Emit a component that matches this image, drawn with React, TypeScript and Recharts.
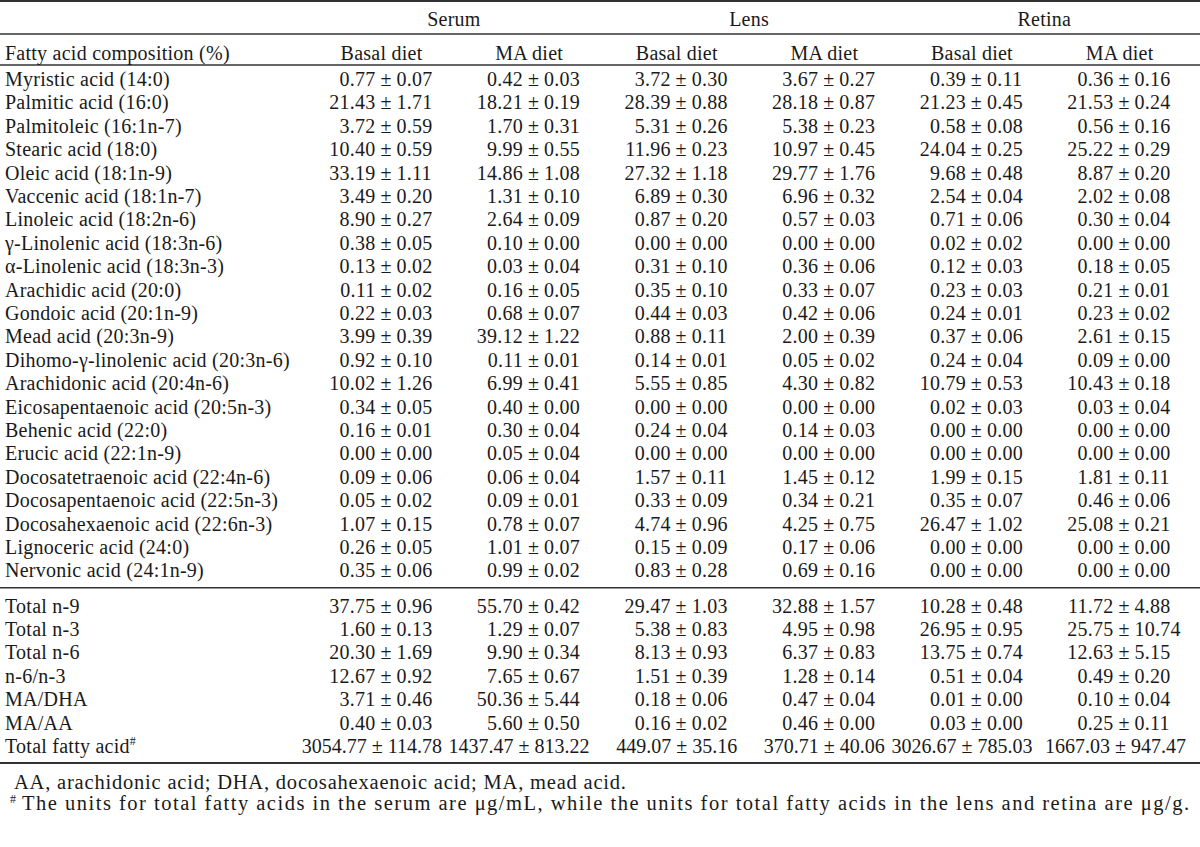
import React from "react";
import { ScatterChart, Scatter, XAxis, YAxis, ReferenceLine } from "recharts";

if (typeof document !== "undefined") document.body.style.margin = "0";

// ─── Data ─────────────────────────────────────────────────────────────────────
const groups = ["Serum", "Lens", "Retina"];
const diets = ["Basal diet", "MA diet"];
const stubHeader = "Fatty acid composition (%)";

const fattyAcids = [
  "Myristic acid (14:0)", "Palmitic acid (16:0)", "Palmitoleic (16:1n-7)", "Stearic acid (18:0)",
  "Oleic acid (18:1n-9)", "Vaccenic acid (18:1n-7)", "Linoleic acid (18:2n-6)",
  "γ-Linolenic acid (18:3n-6)", "α-Linolenic acid (18:3n-3)", "Arachidic acid (20:0)",
  "Gondoic acid (20:1n-9)", "Mead acid (20:3n-9)", "Dihomo-γ-linolenic acid (20:3n-6)",
  "Arachidonic acid (20:4n-6)", "Eicosapentaenoic acid (20:5n-3)", "Behenic acid (22:0)",
  "Erucic acid (22:1n-9)", "Docosatetraenoic acid (22:4n-6)", "Docosapentaenoic acid (22:5n-3)",
  "Docosahexaenoic acid (22:6n-3)", "Lignoceric acid (24:0)", "Nervonic acid (24:1n-9)",
];
const totals = ["Total n-9", "Total n-3", "Total n-6", "n-6/n-3", "MA/DHA", "MA/AA", "Total fatty acid"];

// 22 fatty acids followed by the 7 totals
const serumBasal = [
  "0.77 ± 0.07", "21.43 ± 1.71", "3.72 ± 0.59", "10.40 ± 0.59", "33.19 ± 1.11", "3.49 ± 0.20",
  "8.90 ± 0.27", "0.38 ± 0.05", "0.13 ± 0.02", "0.11 ± 0.02", "0.22 ± 0.03", "3.99 ± 0.39",
  "0.92 ± 0.10", "10.02 ± 1.26", "0.34 ± 0.05", "0.16 ± 0.01", "0.00 ± 0.00", "0.09 ± 0.06",
  "0.05 ± 0.02", "1.07 ± 0.15", "0.26 ± 0.05", "0.35 ± 0.06",
  "37.75 ± 0.96", "1.60 ± 0.13", "20.30 ± 1.69", "12.67 ± 0.92", "3.71 ± 0.46", "0.40 ± 0.03", "3054.77 ± 114.78",
];
const serumMA = [
  "0.42 ± 0.03", "18.21 ± 0.19", "1.70 ± 0.31", "9.99 ± 0.55", "14.86 ± 1.08", "1.31 ± 0.10",
  "2.64 ± 0.09", "0.10 ± 0.00", "0.03 ± 0.04", "0.16 ± 0.05", "0.68 ± 0.07", "39.12 ± 1.22",
  "0.11 ± 0.01", "6.99 ± 0.41", "0.40 ± 0.00", "0.30 ± 0.04", "0.05 ± 0.04", "0.06 ± 0.04",
  "0.09 ± 0.01", "0.78 ± 0.07", "1.01 ± 0.07", "0.99 ± 0.02",
  "55.70 ± 0.42", "1.29 ± 0.07", "9.90 ± 0.34", "7.65 ± 0.67", "50.36 ± 5.44", "5.60 ± 0.50", "1437.47 ± 813.22",
];
const lensBasal = [
  "3.72 ± 0.30", "28.39 ± 0.88", "5.31 ± 0.26", "11.96 ± 0.23", "27.32 ± 1.18", "6.89 ± 0.30",
  "0.87 ± 0.20", "0.00 ± 0.00", "0.31 ± 0.10", "0.35 ± 0.10", "0.44 ± 0.03", "0.88 ± 0.11",
  "0.14 ± 0.01", "5.55 ± 0.85", "0.00 ± 0.00", "0.24 ± 0.04", "0.00 ± 0.00", "1.57 ± 0.11",
  "0.33 ± 0.09", "4.74 ± 0.96", "0.15 ± 0.09", "0.83 ± 0.28",
  "29.47 ± 1.03", "5.38 ± 0.83", "8.13 ± 0.93", "1.51 ± 0.39", "0.18 ± 0.06", "0.16 ± 0.02", "449.07 ± 35.16",
];
const lensMA = [
  "3.67 ± 0.27", "28.18 ± 0.87", "5.38 ± 0.23", "10.97 ± 0.45", "29.77 ± 1.76", "6.96 ± 0.32",
  "0.57 ± 0.03", "0.00 ± 0.00", "0.36 ± 0.06", "0.33 ± 0.07", "0.42 ± 0.06", "2.00 ± 0.39",
  "0.05 ± 0.02", "4.30 ± 0.82", "0.00 ± 0.00", "0.14 ± 0.03", "0.00 ± 0.00", "1.45 ± 0.12",
  "0.34 ± 0.21", "4.25 ± 0.75", "0.17 ± 0.06", "0.69 ± 0.16",
  "32.88 ± 1.57", "4.95 ± 0.98", "6.37 ± 0.83", "1.28 ± 0.14", "0.47 ± 0.04", "0.46 ± 0.00", "370.71 ± 40.06",
];
const retinaBasal = [
  "0.39 ± 0.11", "21.23 ± 0.45", "0.58 ± 0.08", "24.04 ± 0.25", "9.68 ± 0.48", "2.54 ± 0.04",
  "0.71 ± 0.06", "0.02 ± 0.02", "0.12 ± 0.03", "0.23 ± 0.03", "0.24 ± 0.01", "0.37 ± 0.06",
  "0.24 ± 0.04", "10.79 ± 0.53", "0.02 ± 0.03", "0.00 ± 0.00", "0.00 ± 0.00", "1.99 ± 0.15",
  "0.35 ± 0.07", "26.47 ± 1.02", "0.00 ± 0.00", "0.00 ± 0.00",
  "10.28 ± 0.48", "26.95 ± 0.95", "13.75 ± 0.74", "0.51 ± 0.04", "0.01 ± 0.00", "0.03 ± 0.00", "3026.67 ± 785.03",
];
const retinaMA = [
  "0.36 ± 0.16", "21.53 ± 0.24", "0.56 ± 0.16", "25.22 ± 0.29", "8.87 ± 0.20", "2.02 ± 0.08",
  "0.30 ± 0.04", "0.00 ± 0.00", "0.18 ± 0.05", "0.21 ± 0.01", "0.23 ± 0.02", "2.61 ± 0.15",
  "0.09 ± 0.00", "10.43 ± 0.18", "0.03 ± 0.04", "0.00 ± 0.00", "0.00 ± 0.00", "1.81 ± 0.11",
  "0.46 ± 0.06", "25.08 ± 0.21", "0.00 ± 0.00", "0.00 ± 0.00",
  "11.72 ± 4.88", "25.75 ± 10.74", "12.63 ± 5.15", "0.49 ± 0.20", "0.10 ± 0.04", "0.25 ± 0.11", "1667.03 ± 947.47",
];

const footnote1 = "AA, arachidonic acid; DHA, docosahexaenoic acid; MA, mead acid.";
const footnote2 = "The units for total fatty acids in the serum are μg/mL, while the units for total fatty acids in the lens and retina are μg/g.";

// ─── Layout (column / row units) ──────────────────────────────────────────────
const W = 1200;
const H = 847;
const COL_PX = 147.6;   // spacing between value columns
const COL1_PX = 386;    // ± position of first value column
const ROW_PX = 23.4;
const ROW0_PX = 79;
const X_DOMAIN = [1 - COL1_PX / COL_PX, 1 + (W - COL1_PX) / COL_PX];
const Y_DOMAIN = [-ROW0_PX / ROW_PX, (H - ROW0_PX) / ROW_PX];
const STUB_COL = 1 + (5 - COL1_PX) / COL_PX;

const FONT = "'Liberation Serif', 'Times New Roman', serif";
const FS = 20;
const GAP = 10.5;
const BASE = 7; // baseline offset from row centre
const INK = "#1a1a1a";

const columns = [serumBasal, serumMA, lensBasal, lensMA, retinaBasal, retinaMA];
const nRows = fattyAcids.length + totals.length;
const rowOf = (i: number) => (i < fattyAcids.length ? i : i + 0.5);

const stubs = [...fattyAcids, ...totals].map((t, i) => ({
  col: STUB_COL, row: rowOf(i), text: t, sup: i === nRows - 1,
}));
stubs.push({ col: STUB_COL, row: -1.11, text: stubHeader, sup: false });

const cells = columns.flatMap((vals, c) =>
  vals.map((v, i) => {
    const [mean, sd] = v.split(" ± ");
    return { col: c + 1, row: rowOf(i), mean, sd, wide: i === nRows - 1, last: c === columns.length - 1 };
  })
);

const headers = [
  ...groups.map((g, i) => ({ col: 1.46 + i * 2, row: -2.56, text: g })),
  ...columns.map((_, c) => ({ col: c + 1 - 0.03, row: -1.11, text: diets[c % 2] })),
];

const notes = [
  { col: STUB_COL, row: 30.04, text: footnote1, hash: false },
  { col: STUB_COL, row: 30.94, text: footnote2, hash: true },
];

const txt = { fontFamily: FONT, fontSize: FS, fill: INK, letterSpacing: 0.25 } as const;

const StubShape = (p: any) => (
  <text x={p.cx} y={p.cy + BASE} textAnchor="start" {...txt}>
    {p.payload.text}
    {p.payload.sup && <tspan fontSize={12} dy={-8}>#</tspan>}
  </text>
);

const CellShape = (p: any) =>
  p.payload.wide ? (
    // total fatty acid row is too wide for ± alignment: right-aligned
    <text x={p.cx + (p.payload.last ? 62 : 56)} y={p.cy + BASE} textAnchor="end" {...txt} letterSpacing={0}>
      {`${p.payload.mean} ± ${p.payload.sd}`}
    </text>
  ) : (
    <g>
      <text x={p.cx - GAP} y={p.cy + BASE} textAnchor="end" {...txt}>{p.payload.mean}</text>
      <text x={p.cx} y={p.cy + BASE} textAnchor="middle" {...txt}>±</text>
      <text x={p.cx + GAP} y={p.cy + BASE} textAnchor="start" {...txt}>{p.payload.sd}</text>
    </g>
  );

const HeaderShape = (p: any) => (
  <text x={p.cx} y={p.cy + BASE} textAnchor="middle" {...txt}>{p.payload.text}</text>
);

const NoteShape = (p: any) =>
  p.payload.hash ? (
    <g>
      <text x={p.cx + 5} y={p.cy} textAnchor="start" {...txt} fontSize={12}>#</text>
      <text x={p.cx + 17} y={p.cy + BASE} textAnchor="start" {...txt} fontSize={20.5} letterSpacing={1.5}>
        {p.payload.text}
      </text>
    </g>
  ) : (
    <text x={p.cx + 9} y={p.cy + BASE} textAnchor="start" {...txt} fontSize={20.5} letterSpacing={0.8}>
      {p.payload.text}
    </text>
  );

const rules = [
  { row: -3.33, w: 2 },
  { row: -1.92, w: 1.5 },
  { row: -0.6, w: 1.5 },
  { row: 21.74, w: 1.5 },
  { row: 29.23, w: 2 },
];

export default function App() {
  return (
    <div style={{ width: W, height: H, background: "#fff" }}>
      <ScatterChart width={W} height={H} margin={{ top: 0, right: 0, bottom: 0, left: 0 }}>
        <XAxis type="number" dataKey="col" domain={X_DOMAIN} hide allowDataOverflow />
        <YAxis type="number" dataKey="row" domain={Y_DOMAIN} hide reversed allowDataOverflow width={0} />
        {rules.map((r, i) => (
          <ReferenceLine key={i} y={r.row} stroke="#333" strokeWidth={r.w} />
        ))}
        <Scatter data={stubs} shape={StubShape} isAnimationActive={false} />
        <Scatter data={cells} shape={CellShape} isAnimationActive={false} />
        <Scatter data={headers} shape={HeaderShape} isAnimationActive={false} />
        <Scatter data={notes} shape={NoteShape} isAnimationActive={false} />
      </ScatterChart>
    </div>
  );
}
